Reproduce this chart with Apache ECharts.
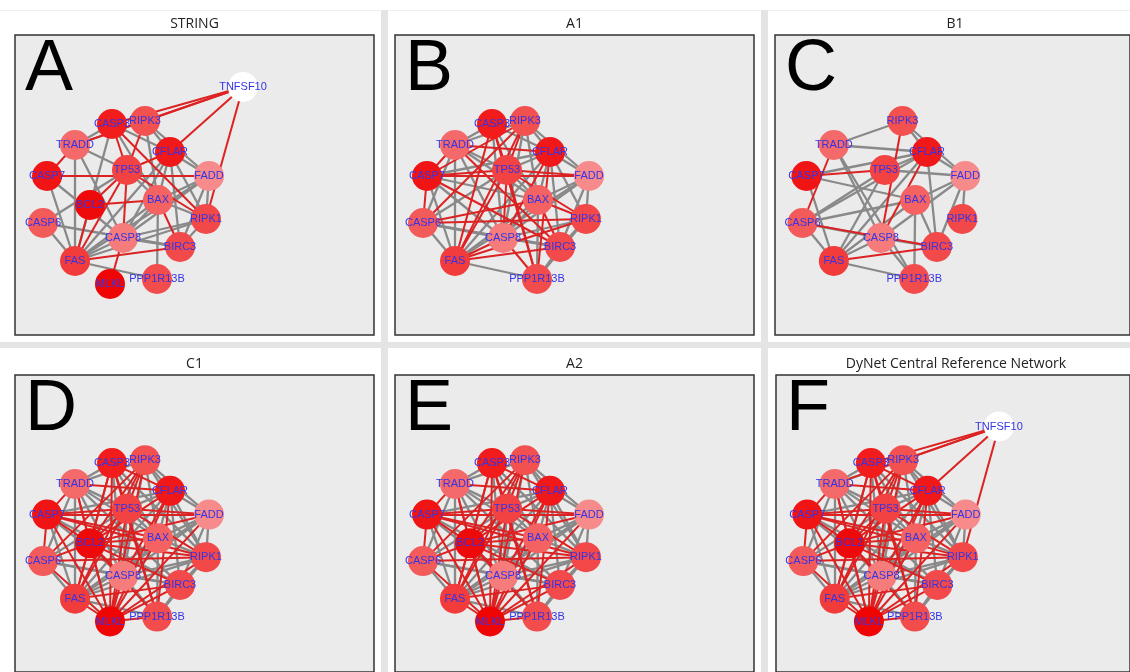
<!DOCTYPE html>
<html>
<head>
<meta charset="utf-8">
<script src="https://cdn.jsdelivr.net/npm/echarts@6/dist/echarts.min.js"></script>
<style>
  html, body { margin: 0; padding: 0; background: #ffffff; }
  #chart { width: 1130px; height: 672px; }
</style>
</head>
<body>
<div id="chart"></div>
<script>
// Genes of the apoptosis / necroptosis module and their fixed layout positions
const genes = ['TNFSF10', 'CASP3', 'RIPK3', 'TRADD', 'CFLAR', 'TP53', 'CASP7', 'FADD', 'BCL2',
               'BAX', 'RIPK1', 'CASP6', 'CASP8', 'BIRC3', 'FAS', 'PPP1R13B', 'MLKL'];
const geneX = [228, 97, 130, 60, 155, 112, 32, 194, 75, 143, 191, 28, 108, 165, 60, 142, 95];
const geneY = [52, 89, 86, 110, 117, 135, 141, 141, 170, 165, 184, 188, 203, 212, 226, 244, 249];
const geneColor = ['#ffffff', '#f21c1c', '#f35050', '#f46a6a', '#f01818', '#f24242', '#f01414', '#f78a8a',
                   '#ee0a0a', '#f46262', '#f24848', '#f35a5a', '#f67c7c', '#f24a4a', '#f23c3c', '#f34c4c', '#f00505'];

// Gene sets shown in each network
const genesFull = genes;
const genesNoTrail = genes.filter(g => g !== 'TNFSF10');
const genesA1 = genes.filter(g => !['TNFSF10', 'BCL2', 'MLKL'].includes(g));
const genesB1 = genes.filter(g => !['TNFSF10', 'BCL2', 'MLKL', 'CASP3'].includes(g));

// STRING network
const stringRed = ['TNFSF10-RIPK3', 'TNFSF10-CASP3', 'TNFSF10-TRADD', 'TNFSF10-CFLAR', 'TNFSF10-RIPK1',
  'CASP3-TP53', 'RIPK3-TP53', 'CASP3-RIPK1', 'TRADD-CASP7', 'CASP7-FADD', 'TP53-BCL2', 'TP53-FAS',
  'BCL2-BAX', 'TP53-RIPK1', 'TP53-CASP8', 'FAS-BIRC3', 'CASP8-MLKL', 'BAX-BIRC3', 'BCL2-FAS', 'CFLAR-TP53'];
const stringGray = ['TRADD-RIPK3', 'TRADD-CASP3', 'TRADD-TP53', 'CASP3-CFLAR', 'RIPK3-CFLAR', 'RIPK3-FADD',
  'RIPK3-BAX', 'CASP3-FAS', 'CASP3-BAX', 'TRADD-FAS', 'TRADD-CASP8', 'CASP7-CASP8', 'CASP7-FAS',
  'CFLAR-FADD', 'CFLAR-RIPK1', 'CFLAR-BIRC3', 'CFLAR-CASP8', 'CFLAR-FAS', 'CFLAR-BAX', 'FADD-RIPK1',
  'FADD-BIRC3', 'FADD-CASP8', 'FADD-FAS', 'FADD-BAX', 'BAX-PPP1R13B', 'BAX-FAS', 'BAX-CASP8', 'BAX-RIPK1',
  'CASP6-BIRC3', 'CASP6-TP53', 'CASP6-FAS', 'RIPK1-CASP8', 'RIPK1-FAS', 'RIPK1-BIRC3', 'FAS-CASP8',
  'FAS-PPP1R13B', 'CASP8-BIRC3', 'TP53-BAX'];

// A1 network
const a1Red = ['CASP7-TP53', 'CASP7-FADD', 'CASP7-RIPK3', 'CASP7-CASP6', 'CASP3-FAS', 'CASP3-PPP1R13B',
  'RIPK3-FAS', 'RIPK3-CASP6', 'TP53-PPP1R13B', 'TP53-FAS', 'TP53-CASP8', 'TP53-RIPK1', 'CFLAR-CASP8',
  'CFLAR-PPP1R13B', 'FAS-CASP8', 'FAS-BIRC3', 'FAS-RIPK1', 'CASP6-RIPK1', 'CASP6-BAX', 'TRADD-CASP7',
  'TRADD-BIRC3', 'BAX-BIRC3', 'BAX-RIPK1', 'CASP8-PPP1R13B', 'CASP3-TP53', 'RIPK3-TP53', 'TP53-FADD',
  'CASP7-BIRC3', 'TRADD-CFLAR'];
const a1Gray = ['TRADD-RIPK3', 'TRADD-CASP3', 'TRADD-TP53', 'CASP3-CFLAR', 'RIPK3-CFLAR', 'RIPK3-FADD',
  'RIPK3-BAX', 'CASP3-BAX', 'TRADD-FAS', 'TRADD-CASP8', 'CASP7-CASP8', 'CASP7-FAS', 'CFLAR-FADD',
  'CFLAR-RIPK1', 'CFLAR-BIRC3', 'CFLAR-FAS', 'CFLAR-BAX', 'FADD-RIPK1', 'FADD-BIRC3', 'FADD-CASP8',
  'FADD-FAS', 'FADD-BAX', 'BAX-PPP1R13B', 'BAX-FAS', 'BAX-CASP8', 'CASP6-BIRC3', 'CASP6-TP53', 'CASP6-FAS',
  'CASP6-CASP8', 'RIPK1-CASP8', 'RIPK1-BIRC3', 'CASP8-BIRC3', 'TP53-BAX', 'TP53-CFLAR', 'TRADD-CASP6',
  'CASP7-BAX', 'FAS-PPP1R13B', 'BIRC3-PPP1R13B', 'RIPK1-PPP1R13B', 'TRADD-BAX', 'CASP3-CASP8',
  'RIPK3-CASP8', 'CASP7-CFLAR'];

// B1 network
const b1Red = ['RIPK3-CASP8', 'CFLAR-CASP8', 'TRADD-CASP6', 'CASP7-TP53', 'CASP6-BIRC3', 'FAS-BIRC3'];
const b1Gray = ['TRADD-RIPK3', 'RIPK3-CFLAR', 'RIPK3-FADD', 'TRADD-CFLAR', 'TRADD-CASP8', 'TRADD-PPP1R13B',
  'CASP7-CFLAR', 'CASP7-BAX', 'CASP7-FAS', 'TP53-CFLAR', 'TP53-FADD', 'TP53-CASP6', 'TP53-FAS',
  'CFLAR-FADD', 'CFLAR-BIRC3', 'CFLAR-FAS', 'FADD-RIPK1', 'FADD-BAX', 'FADD-CASP8', 'FADD-BIRC3',
  'BAX-PPP1R13B', 'BAX-BIRC3', 'BAX-CASP6', 'BAX-FAS', 'CASP6-FAS', 'CASP6-CASP8', 'FAS-CASP8',
  'FAS-PPP1R13B', 'CASP8-PPP1R13B', 'CASP8-BIRC3', 'CASP6-CFLAR'];

// C1 / A2 networks (dense)
const c1Red = ['MLKL-CASP7', 'MLKL-CASP6', 'MLKL-TRADD', 'MLKL-BCL2', 'MLKL-TP53', 'MLKL-CASP3', 'MLKL-RIPK3',
  'MLKL-CFLAR', 'MLKL-FADD', 'MLKL-BAX', 'MLKL-RIPK1', 'MLKL-BIRC3', 'MLKL-CASP8', 'MLKL-PPP1R13B', 'MLKL-FAS',
  'BCL2-CASP7', 'BCL2-CASP6', 'BCL2-TRADD', 'BCL2-TP53', 'BCL2-CASP3', 'BCL2-RIPK3', 'BCL2-CFLAR', 'BCL2-FADD',
  'BCL2-BAX', 'BCL2-RIPK1', 'BCL2-BIRC3', 'BCL2-CASP8', 'BCL2-PPP1R13B', 'BCL2-FAS',
  'CASP7-TP53', 'CASP7-FADD', 'TRADD-CFLAR', 'CASP3-FAS', 'CASP3-PPP1R13B', 'RIPK3-CASP6', 'TP53-PPP1R13B',
  'CFLAR-CASP8', 'CASP7-CASP6', 'CASP6-RIPK1', 'CASP7-RIPK1', 'TP53-RIPK1', 'FAS-BIRC3', 'CASP3-TP53',
  'RIPK3-TP53', 'CASP3-CFLAR', 'TRADD-CASP7', 'CASP7-BAX', 'TP53-FADD', 'CFLAR-PPP1R13B', 'RIPK3-FAS', 'TP53-FAS'];
const c1Gray = ['TRADD-RIPK3', 'TRADD-CASP3', 'RIPK3-CFLAR', 'RIPK3-FADD', 'RIPK3-BAX', 'CFLAR-FADD',
  'CFLAR-RIPK1', 'CFLAR-BIRC3', 'CFLAR-FAS', 'CFLAR-BAX', 'FADD-RIPK1', 'FADD-BIRC3', 'FADD-CASP8', 'FADD-FAS',
  'FADD-BAX', 'BAX-PPP1R13B', 'BAX-FAS', 'BAX-CASP8', 'BAX-RIPK1', 'CASP6-BIRC3', 'CASP6-TP53', 'CASP6-FAS',
  'CASP6-CASP8', 'RIPK1-CASP8', 'RIPK1-FAS', 'RIPK1-BIRC3', 'FAS-CASP8', 'FAS-PPP1R13B', 'CASP8-BIRC3',
  'TP53-BAX', 'TP53-CFLAR', 'TRADD-CASP6', 'TRADD-FAS', 'TRADD-CASP8', 'TRADD-TP53', 'CASP7-CASP8', 'CASP7-FAS',
  'CASP3-BAX', 'CASP3-CASP8', 'RIPK3-CASP8', 'BIRC3-PPP1R13B', 'RIPK1-PPP1R13B', 'TRADD-BAX', 'CASP7-CFLAR',
  'TP53-CASP8', 'CASP3-RIPK1', 'RIPK3-RIPK1', 'TRADD-BIRC3', 'CASP7-BIRC3', 'CASP8-PPP1R13B'];

// TRAIL (TNFSF10) links added in the central reference network
const trailRed = ['TNFSF10-RIPK3', 'TNFSF10-CASP3', 'TNFSF10-TRADD', 'TNFSF10-CFLAR', 'TNFSF10-RIPK1'];

const panelTitles = ['STRING', 'A1', 'B1', 'C1', 'A2', 'DyNet Central Reference Network'];
const panelLetters = ['A', 'B', 'C', 'D', 'E', 'F'];
const panelGenes = [genesFull, genesA1, genesB1, genesNoTrail, genesNoTrail, genesFull];
const panelRed = [stringRed, a1Red, b1Red, c1Red, c1Red, c1Red.concat(trailRed)];
const panelGray = [stringGray, a1Gray, b1Gray, c1Gray, c1Gray, c1Gray];

// Frame of each panel: [left, top, width, height] in px
const frames = [[15, 35, 359, 300], [395, 35, 359, 300], [775, 35, 362, 300],
                [15, 375, 359, 300], [395, 375, 359, 300], [776, 375, 362, 300]];

const RED = '#dc2222';
const GRAY = '#898989';

function makeLinks(list, color, present) {
  return list
    .map(s => s.split('-'))
    .filter(([a, b]) => present.includes(a) && present.includes(b))
    .map(([a, b]) => ({ source: a, target: b, lineStyle: { color: color, width: color === RED ? 2 : 2.3 } }));
}

const grids = [], xAxes = [], yAxes = [], series = [], graphics = [];

// separator bands between the six panels
graphics.push({ type: 'rect', shape: { x: 0, y: 10, width: 1130, height: 1 }, style: { fill: '#efefef' }, z: 0 });
graphics.push({ type: 'rect', shape: { x: 381, y: 10, width: 7, height: 662 }, style: { fill: '#e4e4e4' }, z: 0 });
graphics.push({ type: 'rect', shape: { x: 761, y: 10, width: 7, height: 662 }, style: { fill: '#e4e4e4' }, z: 0 });
graphics.push({ type: 'rect', shape: { x: 0, y: 342, width: 1130, height: 6 }, style: { fill: '#e4e4e4' }, z: 0 });

frames.forEach((f, i) => {
  const [left, top, w, h] = f;
  grids.push({ left: left, top: top, width: w, height: h, show: true,
               backgroundColor: '#ebebeb', borderColor: '#333333', borderWidth: 1.5, containLabel: false });
  xAxes.push({ type: 'value', gridIndex: i, min: 0, max: w, show: false });
  yAxes.push({ type: 'value', gridIndex: i, min: 0, max: h, inverse: true, show: false });

  const present = panelGenes[i];
  series.push({
    type: 'graph',
    coordinateSystem: 'cartesian2d',
    xAxisIndex: i,
    yAxisIndex: i,
    layout: 'none',
    symbol: 'circle',
    symbolSize: 30,
    silent: true,
    animation: false,
    data: present.map(g => {
      const k = genes.indexOf(g);
      return { name: g, value: [geneX[k], geneY[k]], itemStyle: { color: geneColor[k] } };
    }),
    links: makeLinks(panelGray[i], GRAY, present).concat(makeLinks(panelRed[i], RED, present)),
    lineStyle: { opacity: 1, curveness: 0 },
    label: { show: true, position: 'inside', color: '#3434e6', fontSize: 11,
             fontFamily: 'Liberation Sans, Arial, sans-serif' },
    emphasis: { disabled: true }
  });

  // panel title above the frame
  graphics.push({ type: 'text', z: 10, style: {
    text: panelTitles[i], x: left + w / 2 - (i === 2 || i === 5 ? 1 : 0), y: top - 11,
    align: 'center', verticalAlign: 'middle', textAlign: 'center', textVerticalAlign: 'middle',
    font: '14px "Open Sans", sans-serif', fill: '#222222' } });
  // panel letter
  graphics.push({ type: 'text', z: 10, style: {
    text: panelLetters[i], x: left + 10, y: top + 71,
    align: 'left', verticalAlign: 'bottom', textAlign: 'left', textVerticalAlign: 'bottom',
    font: '72px "Liberation Sans", Arial, sans-serif', fill: '#000000' } });
});

const chart = echarts.init(document.getElementById('chart'), null, { renderer: 'canvas' });
chart.setOption({
  backgroundColor: '#ffffff',
  animation: false,
  grid: grids,
  xAxis: xAxes,
  yAxis: yAxes,
  series: series,
  graphic: graphics
});
</script>
</body>
</html>
